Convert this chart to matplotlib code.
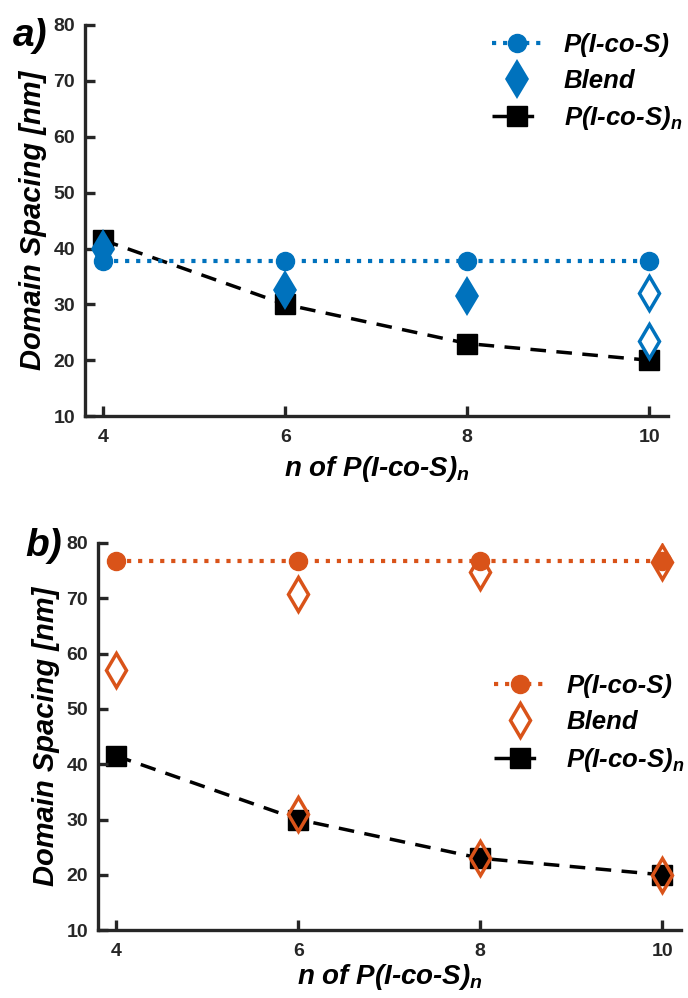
import matplotlib
matplotlib.use("Agg")
import matplotlib.pyplot as plt

# data
n_vals = [4, 6, 8, 10]

# panel a
pics_a = [37.8, 37.8, 37.8, 37.8]
blend_a_x = [4, 6, 8]
blend_a = [40.0, 32.5, 31.5]
blend_a_open_x = [10, 10]
blend_a_open = [32.0, 23.5]
picsn_a = [41.5, 30.0, 23.0, 20.0]

# panel b
pics_b = [76.8, 76.8, 76.8, 76.8]
blend_b_x = [4, 6, 8, 10, 6, 8, 10]
blend_b = [57.0, 70.7, 74.7, 76.5, 31.0, 23.0, 20.0]
picsn_b = [41.5, 30.0, 23.0, 20.0]

yticks = [10, 20, 30, 40, 50, 60, 70, 80]

BLUE = "#0072BD"
ORANGE = "#D95319"
AXC = "#262626"

plt.rcParams["font.family"] = ["Liberation Sans", "DejaVu Sans"]
plt.rcParams["mathtext.fontset"] = "custom"
plt.rcParams["mathtext.it"] = "Liberation Sans:bold:italic"
plt.rcParams["mathtext.rm"] = "Liberation Sans:bold"
plt.rcParams["mathtext.default"] = "it"

fig = plt.figure(figsize=(6.88, 9.98), dpi=100)
ax1 = fig.add_axes([0.1235, 0.583, 0.848, 0.392])
ax2 = fig.add_axes([0.1424, 0.068, 0.848, 0.388])

lab_n = "P(I-co-S)$_n$"


def style_axis(ax, xpad):
    ax.set_xlim(3.80, 10.21)
    ax.set_ylim(10, 80)
    ax.set_xticks(n_vals)
    ax.set_yticks(yticks)
    for s in ["top", "right"]:
        ax.spines[s].set_visible(False)
    for s in ["left", "bottom"]:
        ax.spines[s].set_linewidth(2.4)
        ax.spines[s].set_color(AXC)
    ax.tick_params(direction="in", length=7, width=2.4, color=AXC)
    ax.tick_params(axis="x", pad=9)
    ax.tick_params(axis="y", pad=7)
    for lbl in ax.get_xticklabels() + ax.get_yticklabels():
        lbl.set_fontweight("bold")
        lbl.set_fontsize(14)
        lbl.set_color(AXC)
    ax.set_ylabel("Domain Spacing [nm]", fontsize=21, fontweight="bold",
                  fontstyle="italic", labelpad=5)
    ax.set_xlabel("n of " + lab_n, fontsize=20, fontweight="bold",
                  fontstyle="italic", labelpad=xpad)


def style_legend(leg):
    for t in leg.get_texts():
        t.set_fontweight("bold")
        t.set_fontstyle("italic")


# panel a
h3, = ax1.plot(n_vals, picsn_a, "--", color="black", lw=2.5, marker="s",
               ms=14, dashes=(4.5, 3), label=lab_n, zorder=2)
h1, = ax1.plot(n_vals, pics_a, ":", color=BLUE, lw=3, marker="o", ms=13,
               label="P(I-co-S)", zorder=3)
h2, = ax1.plot(blend_a_x, blend_a, "d", color=BLUE, ms=20, markeredgewidth=0,
               label="Blend", zorder=4)
ax1.plot(blend_a_open_x, blend_a_open, "d", color=BLUE, ms=17,
         markerfacecolor="white", markeredgewidth=2.5, zorder=4)
style_axis(ax1, 6)
leg1 = ax1.legend(handles=[h1, h2, h3], loc="upper right",
                  bbox_to_anchor=(1.063, 1.038), frameon=False, fontsize=18.5,
                  handlelength=2.0, labelspacing=0.45, handletextpad=0.8)
style_legend(leg1)
fig.text(13 / 688, 1 - 36 / 998, "a)", fontsize=28, fontweight="bold",
         fontstyle="italic", ha="left", va="center")

# panel b
g3, = ax2.plot(n_vals, picsn_b, "--", color="black", lw=2.5, marker="s",
               ms=14, dashes=(4.5, 3), label=lab_n, zorder=1)
g1, = ax2.plot(n_vals, pics_b, ":", color=ORANGE, lw=3, marker="o", ms=13,
               label="P(I-co-S)", zorder=2)
g2, = ax2.plot(blend_b_x, blend_b, "d", color=ORANGE, ms=17,
               markerfacecolor="none", markeredgewidth=2.5, label="Blend",
               zorder=4)
style_axis(ax2, 2)
leg2 = ax2.legend(handles=[g1, g2, g3], loc="upper right",
                  bbox_to_anchor=(1.045, 0.72), frameon=False, fontsize=18.5,
                  handlelength=2.0, labelspacing=0.45, handletextpad=0.8)
style_legend(leg2)
fig.text(25 / 688, 1 - 546 / 998, "b)", fontsize=28, fontweight="bold",
         fontstyle="italic", ha="left", va="center")

fig.savefig("out.png", dpi=100)
